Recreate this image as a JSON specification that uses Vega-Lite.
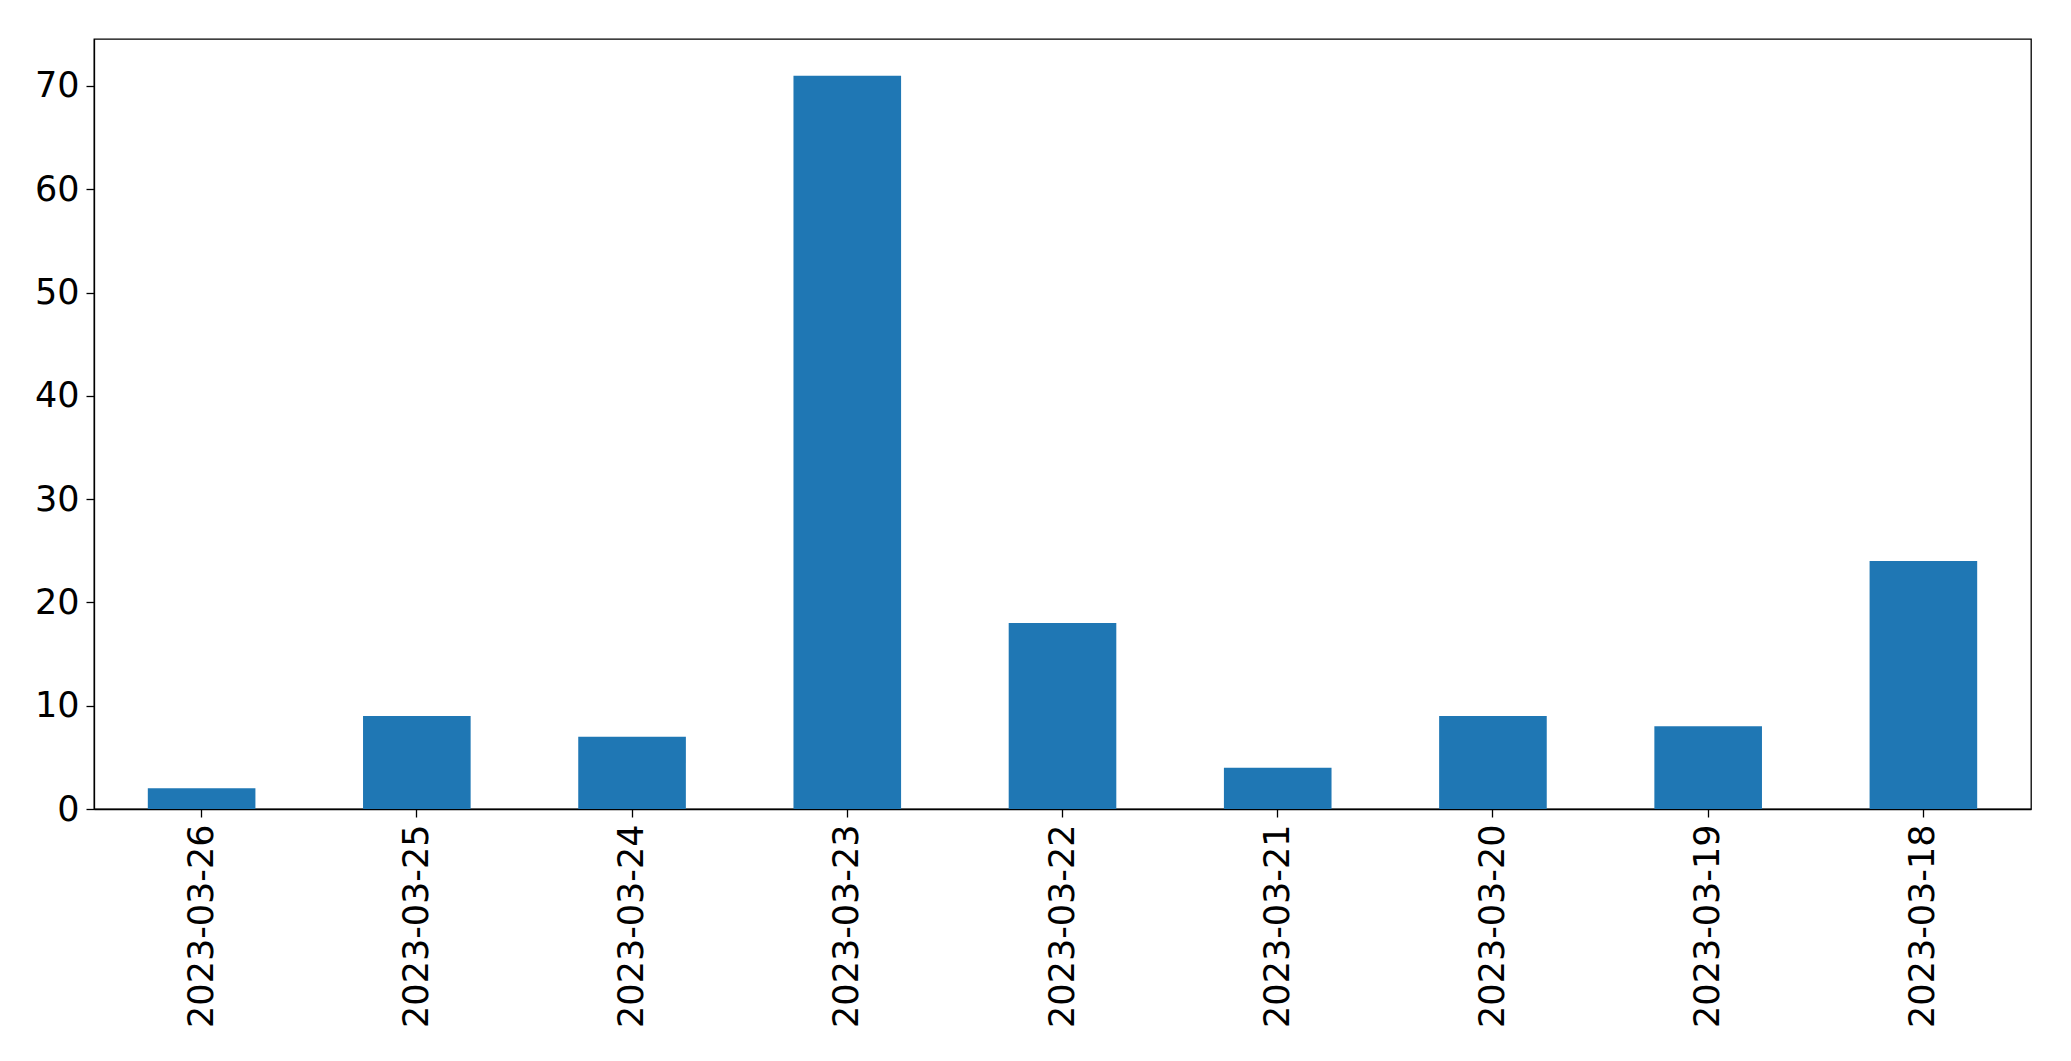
{
  "$schema": "https://vega.github.io/schema/vega-lite/v6.json",
  "width": 1937,
  "height": 770,
  "autosize": "none",
  "padding": {"left": 94, "top": 39, "right": 40, "bottom": 252},
  "background": "white",
  "config": {
    "view": {"stroke": "black", "strokeWidth": 1.3},
    "font": "DejaVu Sans"
  },
  "data": {
    "values": [
      {"date": "2023-03-26", "count": 2},
      {"date": "2023-03-25", "count": 9},
      {"date": "2023-03-24", "count": 7},
      {"date": "2023-03-23", "count": 71},
      {"date": "2023-03-22", "count": 18},
      {"date": "2023-03-21", "count": 4},
      {"date": "2023-03-20", "count": 9},
      {"date": "2023-03-19", "count": 8},
      {"date": "2023-03-18", "count": 24}
    ]
  },
  "mark": {"type": "bar", "color": "#1f77b4"},
  "encoding": {
    "x": {
      "field": "date",
      "type": "nominal",
      "sort": null,
      "title": null,
      "scale": {"paddingInner": 0.5, "paddingOuter": 0.25},
      "axis": {
        "labelAngle": -90,
        "labelFontSize": 35,
        "labelLimit": 0,
        "labelColor": "black",
        "labelFont": "DejaVu Sans",
        "tickColor": "black",
        "tickSize": 8,
        "tickWidth": 1.3,
        "labelPadding": 7,
        "domainColor": "black",
        "domainWidth": 1.3
      }
    },
    "y": {
      "field": "count",
      "type": "quantitative",
      "title": null,
      "scale": {"domain": [0, 74.55], "nice": false, "zero": true},
      "axis": {
        "values": [0, 10, 20, 30, 40, 50, 60, 70],
        "grid": false,
        "labelFontSize": 35,
        "labelColor": "black",
        "labelFont": "DejaVu Sans",
        "tickColor": "black",
        "tickSize": 8,
        "tickWidth": 1.3,
        "labelPadding": 7,
        "domainColor": "black",
        "domainWidth": 1.3
      }
    }
  }
}
